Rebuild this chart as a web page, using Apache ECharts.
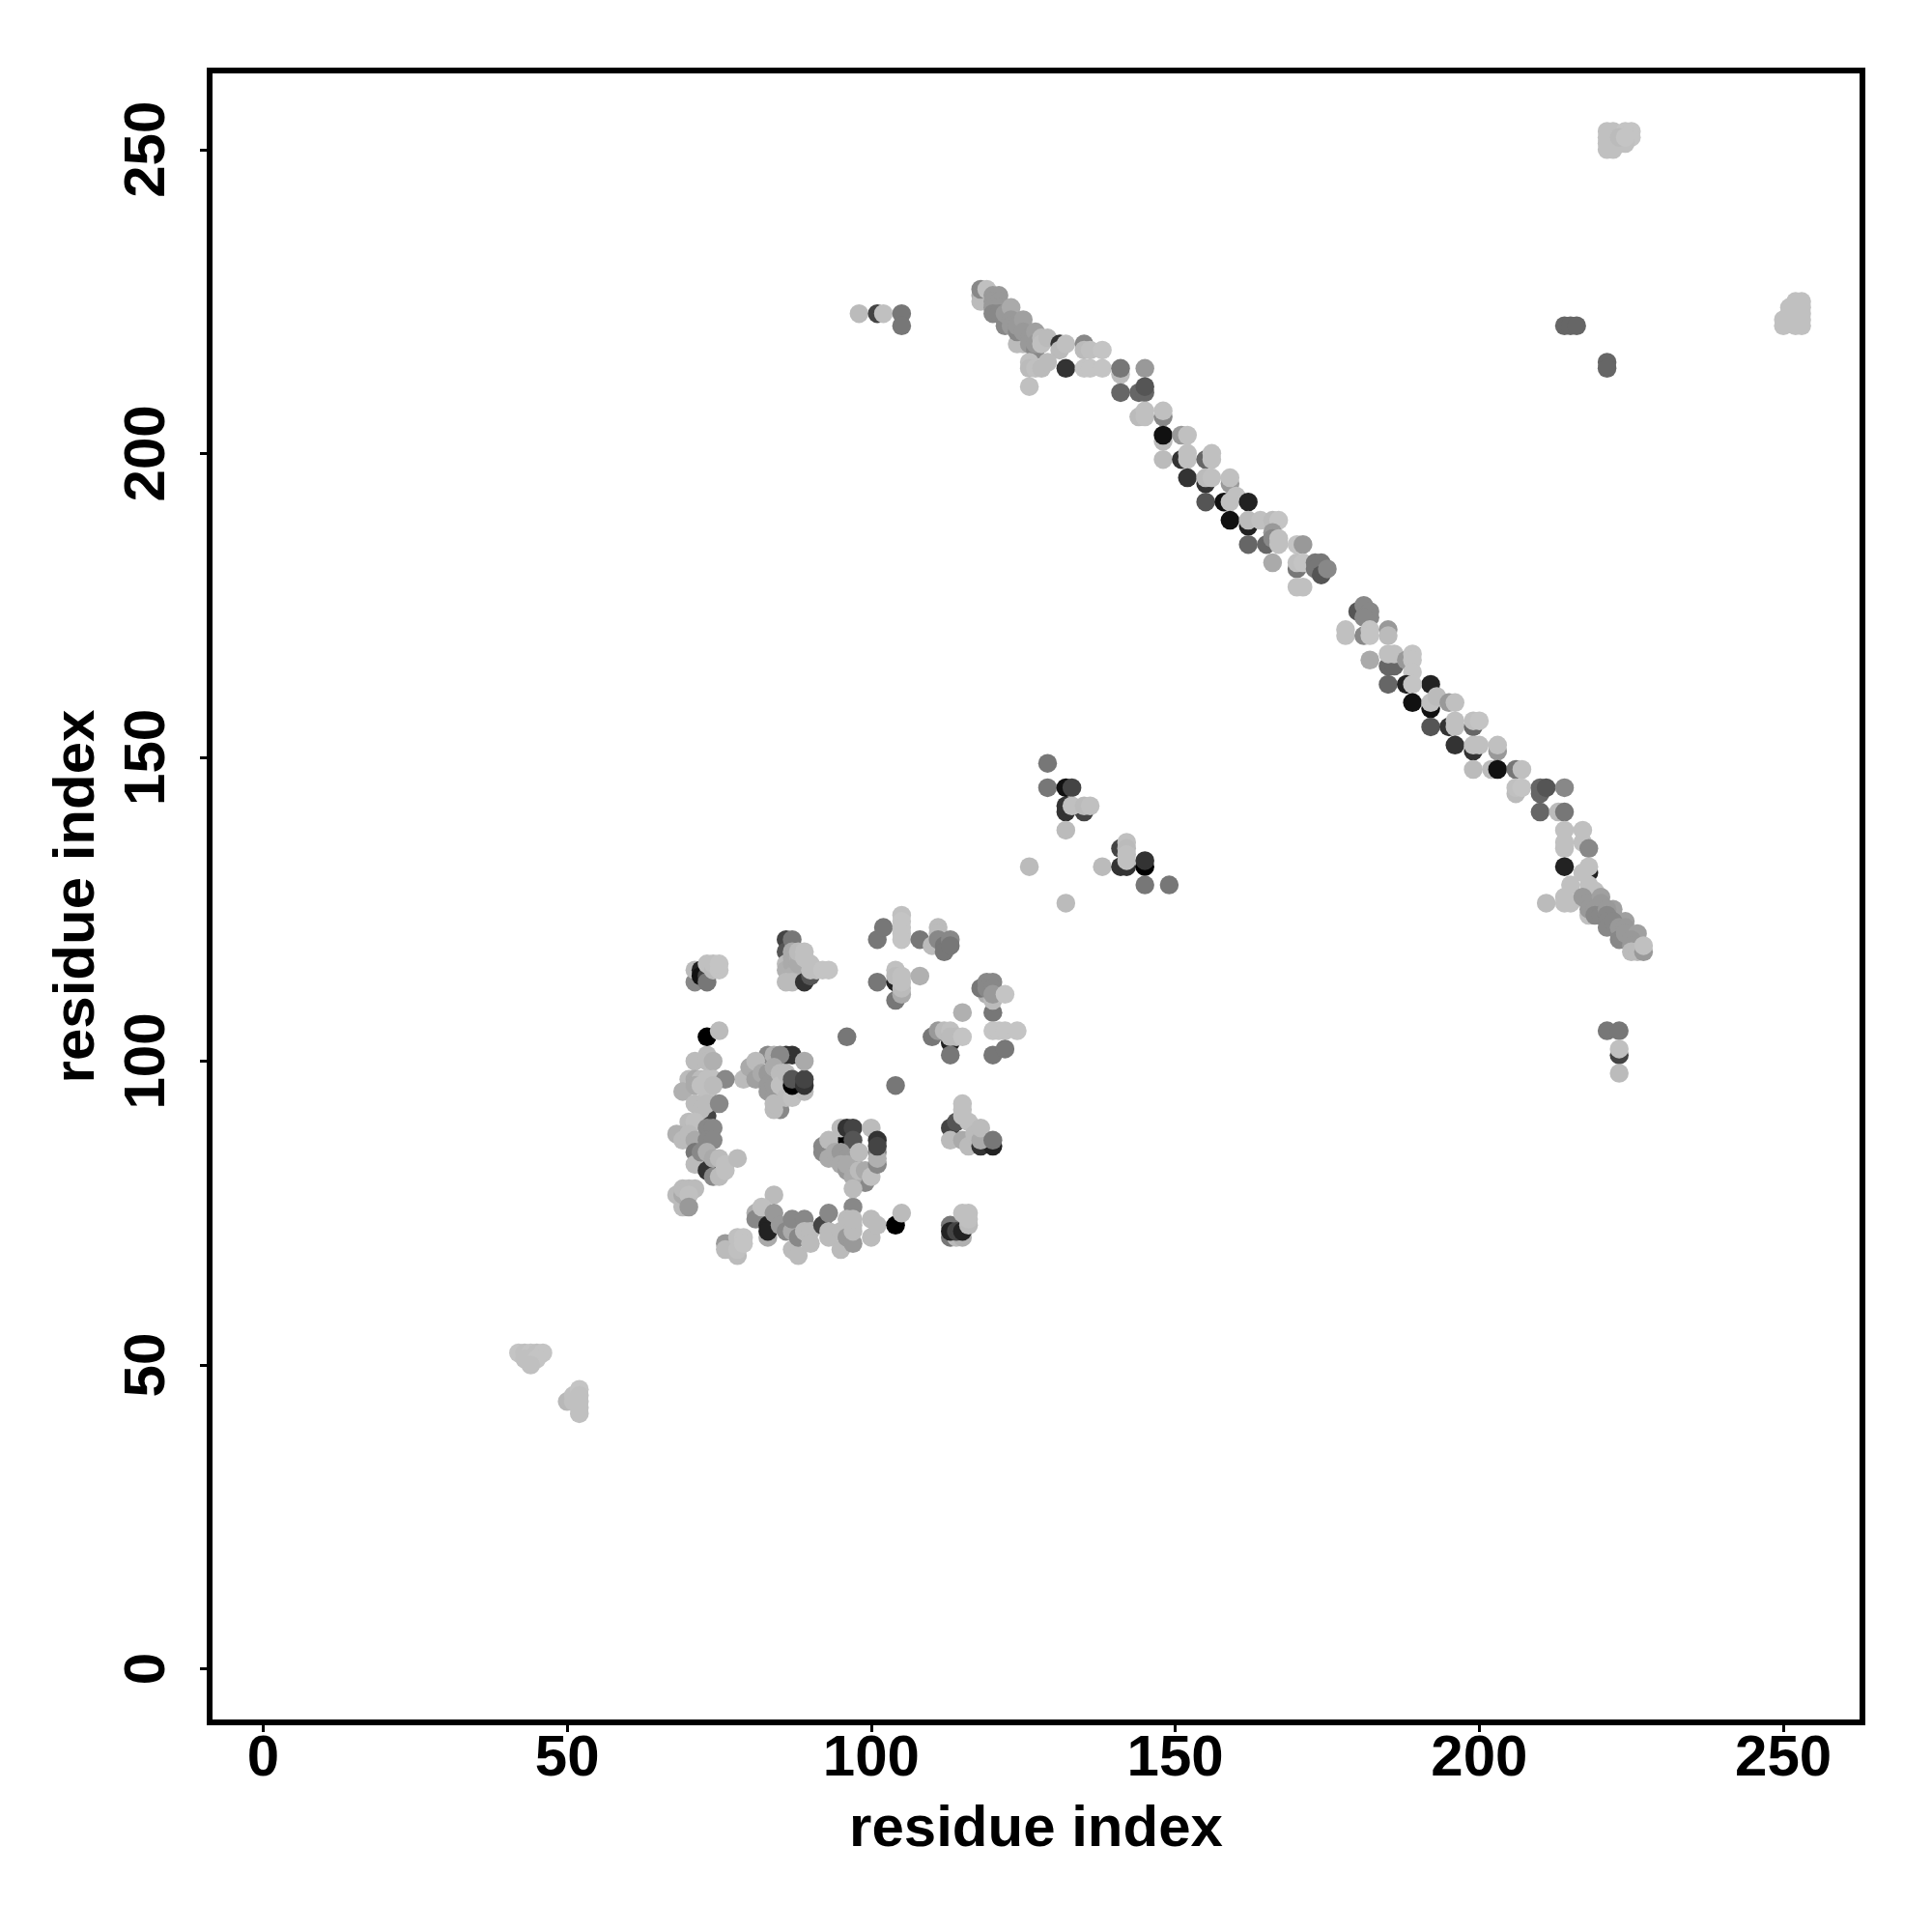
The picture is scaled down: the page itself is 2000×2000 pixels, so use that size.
<!DOCTYPE html>
<html><head><meta charset="utf-8">
<script src="https://cdn.jsdelivr.net/npm/echarts@6/dist/echarts.min.js"></script>
<style>html,body{margin:0;padding:0;background:#fff}#c{width:2000px;height:2000px}</style>
</head><body><div id="c"></div>
<script>
// each triple: residue i, residue j, grey value of the contact
const tickValues = [0, 50, 100, 150, 200, 250];
const axisTitle = 'residue index';
const cornerA = [[42,52,0xc4],[43,52,0xc0],[44,52,0xc4],[45,52,0xc0],[46,52,0xc4],[43,51,0xc0],[44,51,0xc0],[45,51,0xc4],[44,50,0xc0]];
const cornerB = [[50,44,0xb8],[51,45,0xc0],[51,44,0xc0],[52,46,0xc4],[52,45,0xc0],[52,44,0xc0],[52,43,0xc0],[52,42,0xc0]];
const groupTopLeft = [[71,113,0x88],[71,115,0xbb],[72,115,0x22],[72,114,0x11],[73,114,0x44],[73,113,0x77],[73,116,0xc0],[74,115,0xbb],[74,116,0xc0],[75,115,0xc4],[75,116,0xc4]];
const groupTopMid = [[86,120,0x44],[86,118,0x55],[87,120,0x77],[86,116,0xbb],[86,115,0xb0],[87,118,0xaa],[87,117,0xaa],[87,116,0xaa],[87,114,0xb0],[87,113,0xbb],[86,113,0xbb],[88,117,0xb0],[88,116,0xaa],[88,118,0xbb],[89,113,0x33],[90,114,0x55],[89,118,0xc0],[89,117,0xc0],[90,116,0xc0],[90,115,0xc0],[91,115,0xc0],[92,115,0xc4],[93,115,0xc4]];
const groupTopRight = [[101,120,0x77],[102,122,0x77],[105,124,0xc0],[105,123,0xc4],[105,122,0xc4],[105,121,0xc4],[105,120,0xc4],[108,120,0x77],[110,119,0xbb],[111,122,0xbb],[111,121,0xbb],[111,120,0x88],[112,119,0x77],[112,118,0x77],[113,120,0x88],[113,119,0x77]];
const groupMidRight = [[101,113,0x77],[104,113,0x22],[104,110,0x77],[105,111,0xaa],[104,115,0xc0],[104,114,0xbb],[105,112,0xbb],[105,113,0xc0],[105,114,0xc0],[108,114,0xb0]];
const groupFarRight = [[120,108,0x77],[119,111,0xb0],[120,110,0xbb],[118,112,0x77],[119,113,0x88],[120,113,0x88],[119,112,0x88],[120,112,0x88],[120,111,0x99],[122,111,0xc4],[115,108,0xb0],[110,104,0x77],[111,105,0x99],[113,103,0x22],[112,105,0xbb],[113,105,0xc0],[114,104,0xbb],[113,104,0xbb],[115,104,0xc4],[113,101,0x77],[120,105,0xc4],[121,105,0xc4],[122,105,0xc4],[124,105,0xc4],[120,101,0x77],[122,102,0x77]];
const groupSingles = [[73,104,0x00],[75,105,0xbb],[96,104,0x77],[104,96,0x77],[104,73,0x00],[105,75,0xbb],[132,126,0xbb]];
const groupLeft = [[73,101,0xbb],[71,100,0xbb],[73,100,0xbb],[74,100,0xb0],[70,97,0xbb],[71,97,0xaa],[72,97,0xbb],[73,97,0xc0],[74,97,0xc0],[76,97,0x88],[69,95,0xb0],[71,96,0xaa],[72,96,0xc0],[73,95,0xc0],[74,96,0xbb],[73,91,0x44],[71,93,0xbb],[72,92,0xbb],[73,93,0xbb],[75,93,0x88],[70,90,0xbb],[71,90,0xc0],[68,88,0xb0],[69,87,0xbb],[70,88,0xbb],[71,87,0xaa],[71,85,0x77],[72,83,0x11],[71,83,0xbb],[73,82,0x33],[72,85,0x88],[73,89,0x88],[74,89,0x88],[73,87,0x88],[74,87,0x88],[73,85,0xb0],[74,81,0x88],[74,84,0xaa],[75,84,0xbb],[75,81,0xbb],[76,82,0xc0],[76,83,0xc0],[78,84,0xbb]];
const groupCentreTop = [[86,101,0x33],[87,101,0x33],[83,101,0x88],[84,101,0xb0],[85,101,0x88],[79,97,0xbb],[80,99,0xaa],[81,100,0xbb],[81,97,0xa0],[82,98,0xaa],[83,98,0x99],[83,96,0x99],[83,95,0x99],[84,94,0x99],[84,97,0x99],[84,96,0x99],[85,95,0x99],[85,94,0x99],[84,99,0xaa],[85,92,0x88],[84,92,0xbb],[84,93,0xbb],[85,98,0xbb],[85,96,0xc0],[86,98,0xbb],[86,94,0xbb],[87,94,0xc0],[89,95,0xbb],[87,96,0x00],[87,97,0x55],[89,96,0x33],[89,97,0x44],[89,100,0xaa]];
const groupCentre = [[96,87,0x00],[95,89,0xbb],[96,89,0x33],[97,89,0x44],[97,87,0x55],[100,89,0xbb],[92,86,0x88],[92,85,0x88],[93,87,0xbb],[93,84,0xaa],[94,85,0xaa],[95,84,0xaa],[95,85,0x99],[96,84,0x99],[97,84,0x99],[97,83,0x99],[95,83,0xaa],[96,82,0x99],[96,83,0xaa],[99,80,0x88],[97,81,0xaa],[97,79,0xbb],[98,82,0xbb],[98,85,0xbb],[99,82,0xaa],[100,81,0xc0],[101,83,0x88],[101,85,0x88],[101,84,0xb0],[101,87,0x33],[101,86,0x44]];
const groupBottomA = [[68,78,0xbb],[69,76,0xbb],[69,78,0xaa],[69,79,0xbb],[70,79,0xbb],[71,79,0xbb],[70,78,0xc0],[70,76,0x99]];
const groupBottomB = [[76,70,0x99],[76,69,0xbb],[78,68,0xbb],[78,69,0xc0],[78,71,0xc0],[79,71,0xc4],[79,70,0xc4]];
const groupBottomC = [[84,78,0xbb],[81,75,0xb0],[81,74,0x88],[82,76,0xc0],[83,71,0xaa],[83,73,0x22],[83,72,0x22],[84,75,0x99],[85,73,0x99],[86,72,0x88],[87,72,0xaa],[87,74,0x88],[89,74,0x88],[87,69,0xbb],[88,68,0xbb],[88,71,0x88],[89,72,0xbb],[90,72,0xbb],[90,70,0xbb],[92,73,0x44],[93,75,0x88],[93,72,0xbb],[93,71,0xbb],[95,69,0xbb],[95,72,0xbb],[96,71,0x99],[97,70,0x99],[97,76,0x88],[96,74,0xbb],[97,73,0xbb],[97,72,0xbb],[97,74,0xbb],[100,71,0xbb],[100,74,0xbb],[101,73,0xbb]];
const groupLowerRight = [[113,89,0x44],[113,87,0xbb],[114,90,0x55],[115,87,0xaa],[115,93,0xc0],[115,92,0xc0],[115,91,0xc0],[116,90,0xc0],[116,86,0xbb],[117,88,0xbb],[118,86,0x33],[120,86,0x22],[118,87,0xaa],[118,89,0xbb],[120,87,0x77]];
const groupLowerCorner = [[113,71,0x77],[113,73,0x77],[114,71,0xbb],[115,71,0xb0],[113,72,0x22],[114,72,0x44],[115,72,0x22],[116,73,0xbb],[115,75,0xc0],[116,75,0xc0],[116,74,0xc0]];
const groupMiddle = [[129,149,0x77],[129,145,0x77],[132,145,0x11],[133,145,0x44],[132,141,0x33],[132,142,0x33],[135,141,0x44],[133,142,0xc0],[135,142,0xbb],[136,142,0xc0],[132,138,0xbb],[126,132,0xbb],[138,132,0xbb],[141,135,0x44],[141,132,0x33],[142,132,0x33],[142,136,0xc0],[142,135,0xbb],[142,134,0xc0],[142,133,0xc0],[145,132,0x00],[145,133,0x33],[145,129,0x77],[149,129,0x77]];
const groupUpperLeft = [[98,223,0xbb],[101,223,0x44],[102,223,0xc0],[105,223,0x77],[105,221,0x77]];
const diagonalA = [[118,226,0xaa],[118,225,0xbb],[118,227,0x88],[119,227,0xc0],[120,226,0x99],[121,226,0x99],[120,225,0x99],[121,225,0x99],[120,224,0x99],[121,224,0x99],[120,223,0x88],[121,223,0x88],[122,222,0x88],[122,221,0x88],[122,223,0x99],[123,224,0xaa],[123,222,0x99],[123,221,0x99],[124,218,0xbb],[125,218,0xbb],[124,220,0x88],[124,221,0x99],[125,222,0xa0],[125,220,0x99],[126,219,0x99],[126,218,0x99],[127,217,0x88],[127,220,0xa0],[127,218,0x99],[128,219,0xbb],[128,218,0xc0],[129,219,0xbb],[131,218,0x33],[131,217,0xbb],[132,218,0xc0],[135,218,0x88],[135,217,0xbb],[136,217,0xc0],[138,217,0xc4],[126,211,0xc0],[126,215,0xc0],[126,214,0xbb],[127,214,0xc0],[128,214,0xbb],[129,215,0xbb],[132,214,0x33],[135,214,0xc4],[136,214,0xc4],[138,214,0xc4],[141,213,0xbb],[141,214,0x77],[145,214,0x99],[141,210,0x66],[144,210,0x66],[145,210,0x66],[145,211,0x55]];
const diagonalB = [[144,206,0xbb],[145,207,0xc0],[145,206,0xc0],[148,206,0x88],[148,207,0xc0],[148,202,0xbb],[148,203,0x11],[151,203,0x99],[152,203,0xc0],[148,199,0xbb],[151,199,0x33],[152,200,0xc0],[152,199,0xc0],[155,199,0x66],[156,200,0xc0],[156,199,0xc0],[152,196,0x33],[155,195,0x33],[155,196,0xbb],[156,196,0xc0],[159,195,0x99],[159,196,0xc0],[155,192,0x55],[158,192,0x11],[159,192,0xc0],[160,193,0xc0],[162,192,0x22],[159,189,0x11],[162,188,0x22],[162,189,0xbb],[164,189,0xc0],[166,189,0xbb],[167,189,0xc4],[162,185,0x66],[165,185,0x66],[166,187,0x99],[166,186,0x88],[167,186,0xc0],[167,185,0xc0],[166,182,0xaa],[170,185,0xc4],[171,185,0x99],[170,181,0x77],[170,182,0xc0],[171,182,0xc4],[173,182,0x77],[174,182,0x77],[173,181,0x77],[174,180,0x55],[175,181,0x88],[170,178,0xc0],[171,178,0xc0]];
const diagonalC = [[180,174,0x55],[181,175,0x88],[182,174,0x88],[182,173,0x88],[181,173,0x88],[178,171,0xc0],[178,170,0xc0],[181,170,0x88],[182,171,0xc4],[182,170,0xc4],[185,171,0x99],[185,170,0xbb],[182,166,0xaa],[185,165,0x66],[186,165,0x66],[185,167,0xc0],[186,167,0xc0],[188,166,0x99],[189,167,0xc4],[189,166,0xc4],[189,164,0xc4],[185,162,0x66],[188,162,0x22],[192,162,0x22],[189,162,0xc4],[189,159,0x11],[192,158,0x11],[192,159,0xc0],[193,160,0xbb],[195,159,0x99],[196,159,0xc0],[192,155,0x55],[195,155,0x33],[196,156,0xc0],[196,155,0xc0],[199,155,0x66],[199,156,0xc0],[200,156,0xc4],[196,152,0x33],[199,151,0x33],[199,152,0xc0],[200,152,0xc0],[203,151,0x99],[203,152,0xc0],[199,148,0xbb],[202,148,0xbb],[203,148,0x11],[206,148,0x77],[207,148,0xc0],[206,144,0xbb],[206,145,0xc0],[207,145,0xc4]];
const diagonalD = [[210,144,0x66],[210,145,0x66],[211,145,0x55],[214,145,0x88],[210,141,0x66],[213,141,0xbb],[214,141,0x77],[214,138,0xc0],[217,138,0xc0],[214,136,0xc0],[214,135,0xc0],[217,136,0xc0],[218,135,0x88],[214,132,0x22],[218,131,0x22],[217,131,0xc0],[218,132,0xc0],[215,129,0xc0],[218,129,0xc0],[219,128,0xc0],[211,126,0xbb],[214,127,0xc0],[214,126,0xc0],[215,126,0xc0],[218,124,0xc0],[217,127,0x99],[218,126,0x99],[218,125,0x99],[220,127,0xa0],[220,126,0x99],[219,125,0x99],[219,124,0x88],[220,124,0x88],[222,125,0xa0],[221,125,0x99],[221,124,0x88],[221,123,0x88],[221,122,0x88],[224,123,0xa0],[222,123,0x88],[223,122,0x99],[224,122,0x99],[223,120,0x88],[224,121,0x99],[226,121,0xa0],[225,120,0x99],[225,119,0x99],[225,118,0xbb],[226,118,0xbb],[227,118,0x99],[227,119,0xc0]];
const groupSideBottom = [[221,105,0x77],[223,105,0x77],[223,101,0x44],[223,102,0xc0],[223,98,0xbb]];
const groupSideTop = [[214,221,0x66],[215,221,0x66],[216,221,0x66],[221,215,0x66],[221,214,0x66]];
const groupCornerTop = [[221,253,0xc0],[222,253,0xc0],[224,253,0xc4],[225,253,0xc4],[225,252,0xc4],[221,252,0xc0],[221,251,0xc0],[221,250,0xc0],[222,250,0xc0],[224,251,0xc0],[223,252,0xbb],[224,252,0xc4]];
const groupCornerRight = [[250,222,0xc0],[250,221,0xc0],[251,223,0xc0],[251,224,0xc0],[252,225,0xc0],[253,225,0xc0],[253,224,0xc0],[253,223,0xc0],[252,223,0xc0],[253,222,0xc0],[252,221,0xc0],[253,221,0xc0],[252,224,0xc0],[251,222,0xc0]];

const contacts = [].concat(cornerA, cornerB, groupBottomA, groupBottomB, groupBottomC, groupCentre, groupCentreTop, groupLeft, groupTopLeft, groupTopMid, groupTopRight, groupMidRight, groupFarRight, groupSingles, groupLowerRight, groupLowerCorner, groupMiddle, groupUpperLeft, diagonalA, diagonalB, diagonalC, diagonalD, groupSideBottom, groupSideTop, groupCornerTop, groupCornerRight);

const FONT = '"Liberation Sans", Arial, sans-serif';
function axis(extra) {
  return Object.assign({
    type: 'value', min: -8.8, max: 263, name: axisTitle, nameLocation: 'middle',
    nameTextStyle: { fontFamily: FONT, fontWeight: 'bold', fontSize: 60, color: '#000' },
    splitLine: { show: false }, axisLine: { show: false, onZero: false },
    axisTick: { show: true, length: 10, inside: false, customValues: tickValues, lineStyle: { color: '#000', width: 3 } }
  }, extra);
}
const chart = echarts.init(document.getElementById('c'), null, { renderer: 'canvas' });
chart.setOption({
  animation: false,
  backgroundColor: '#fff',
  grid: { left: 217, top: 73, width: 1711, height: 1710, show: true, borderColor: '#000', borderWidth: 6, backgroundColor: '#fff', containLabel: false },
  xAxis: axis({ nameGap: 81, axisLabel: { customValues: tickValues, margin: 8, fontFamily: FONT, fontWeight: 'bold', fontSize: 60, color: '#000' } }),
  yAxis: axis({ nameGap: 107, axisLabel: { customValues: tickValues, rotate: 90, margin: 34, fontFamily: FONT, fontWeight: 'bold', fontSize: 60, color: '#000' } }),
  series: [{
    type: 'scatter', data: contacts, symbol: 'circle', symbolSize: 19.5,
    encode: { x: 0, y: 1 },
    itemStyle: { opacity: 1, color: p => { const g = p.value[2]; return `rgb(${g},${g},${g})`; } }
  }]
});
</script></body></html>
